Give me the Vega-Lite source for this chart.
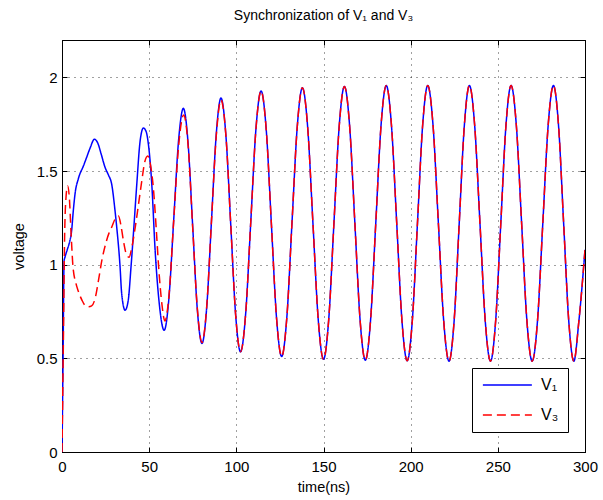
{
  "$schema": "https://vega.github.io/schema/vega-lite/v6.json",
  "autosize": "none",
  "width": 523,
  "height": 412,
  "padding": {"left": 62, "top": 40, "right": 18, "bottom": 48},
  "background": "white",
  "config": {
    "font": "Liberation Sans",
    "view": {"stroke": "black", "strokeWidth": 1},
    "axis": {
      "domainColor": "black", "tickColor": "black", "labelColor": "black", "titleColor": "black",
      "labelFontSize": 15, "titleFontSize": 14.5, "titleFontWeight": "normal",
      "tickSize": -5, "gridColor": "#000000", "gridOpacity": 0.75, "gridDash": [1, 5]
    },
    "legend": {
      "title": null, "orient": "none", "legendX": 410, "legendY": 328,
      "symbolType": "M-1,0H7", "symbolSize": 150, "symbolStrokeWidth": 1.5, "symbolFillColor": "transparent",
      "labelFontSize": 16, "labelOffset": 44, "rowPadding": 14, "padding": 9,
      "strokeColor": "black", "fillColor": "white", "labelColor": "black"
    },
    "title": {"fontSize": 14, "fontWeight": "normal", "color": "black"}
  },
  "title": {"text": "Synchronization of V₁ and V₃", "offset": 6, "baseline": "alphabetic"},
  "data": {"values": [
    {"t":0,"v":0,"s":"V₁"},{"t":0.6,"v":0.5,"s":"V₁"},{"t":1.2,"v":1.02,"s":"V₁"},{"t":1.7,"v":1.04,"s":"V₁"},{"t":3,"v":1.08,"s":"V₁"},{"t":4.3,"v":1.12,"s":"V₁"},{"t":5.5,"v":1.18,"s":"V₁"},{"t":6.5,"v":1.29,"s":"V₁"},{"t":7.5,"v":1.38,"s":"V₁"},{"t":9.4,"v":1.46,"s":"V₁"},{"t":12.4,"v":1.53,"s":"V₁"},{"t":14,"v":1.57,"s":"V₁"},{"t":16,"v":1.62,"s":"V₁"},{"t":18.6,"v":1.67,"s":"V₁"},{"t":20.5,"v":1.65,"s":"V₁"},{"t":22.5,"v":1.59,"s":"V₁"},{"t":24.7,"v":1.52,"s":"V₁"},{"t":26.6,"v":1.48,"s":"V₁"},{"t":28.5,"v":1.43,"s":"V₁"},{"t":30.4,"v":1.29,"s":"V₁"},{"t":31.4,"v":1.2,"s":"V₁"},{"t":33.3,"v":0.99,"s":"V₁"},{"t":34.2,"v":0.85,"s":"V₁"},{"t":36.2,"v":0.757,"s":"V₁"},{"t":38,"v":0.81,"s":"V₁"},{"t":39.6,"v":0.99,"s":"V₁"},{"t":41,"v":1.17,"s":"V₁"},{"t":42.9,"v":1.43,"s":"V₁"},{"t":44.8,"v":1.66,"s":"V₁"},{"t":46.7,"v":1.73,"s":"V₁"},{"t":48.3,"v":1.71,"s":"V₁"},{"t":49.6,"v":1.64,"s":"V₁"},{"t":51.5,"v":1.43,"s":"V₁"},{"t":53.4,"v":1.08,"s":"V₁"},{"t":55.6,"v":0.81,"s":"V₁"},{"t":58.6,"v":0.65,"s":"V₁"},{"t":61.35,"v":0.823,"s":"V₁"},{"t":64.1,"v":1.243,"s":"V₁"},{"t":66.85,"v":1.662,"s":"V₁"},{"t":69.6,"v":1.835,"s":"V₁"},{"t":72.3,"v":1.652,"s":"V₁"},{"t":74.95,"v":1.208,"s":"V₁"},{"t":77.6,"v":0.763,"s":"V₁"},{"t":80.3,"v":0.58,"s":"V₁"},{"t":83,"v":0.771,"s":"V₁"},{"t":85.75,"v":1.235,"s":"V₁"},{"t":88.5,"v":1.699,"s":"V₁"},{"t":91.2,"v":1.89,"s":"V₁"},{"t":94,"v":1.692,"s":"V₁"},{"t":96.8,"v":1.213,"s":"V₁"},{"t":99.6,"v":0.733,"s":"V₁"},{"t":102.4,"v":0.535,"s":"V₁"},{"t":105.35,"v":0.738,"s":"V₁"},{"t":108.3,"v":1.232,"s":"V₁"},{"t":111.25,"v":1.725,"s":"V₁"},{"t":114.2,"v":1.928,"s":"V₁"},{"t":117.15,"v":1.721,"s":"V₁"},{"t":120.1,"v":1.219,"s":"V₁"},{"t":123.05,"v":0.717,"s":"V₁"},{"t":126,"v":0.51,"s":"V₁"},{"t":128.98,"v":0.72,"s":"V₁"},{"t":131.95,"v":1.228,"s":"V₁"},{"t":134.93,"v":1.735,"s":"V₁"},{"t":137.9,"v":1.945,"s":"V₁"},{"t":140.93,"v":1.733,"s":"V₁"},{"t":143.95,"v":1.22,"s":"V₁"},{"t":146.98,"v":0.707,"s":"V₁"},{"t":150,"v":0.495,"s":"V₁"},{"t":153,"v":0.708,"s":"V₁"},{"t":156,"v":1.224,"s":"V₁"},{"t":159,"v":1.739,"s":"V₁"},{"t":162,"v":1.952,"s":"V₁"},{"t":165,"v":1.739,"s":"V₁"},{"t":168,"v":1.221,"s":"V₁"},{"t":171,"v":0.703,"s":"V₁"},{"t":174,"v":0.49,"s":"V₁"},{"t":177,"v":0.704,"s":"V₁"},{"t":180,"v":1.224,"s":"V₁"},{"t":183,"v":1.743,"s":"V₁"},{"t":186,"v":1.957,"s":"V₁"},{"t":189,"v":1.742,"s":"V₁"},{"t":192,"v":1.222,"s":"V₁"},{"t":195,"v":0.702,"s":"V₁"},{"t":198,"v":0.487,"s":"V₁"},{"t":200.95,"v":0.702,"s":"V₁"},{"t":203.9,"v":1.222,"s":"V₁"},{"t":206.85,"v":1.742,"s":"V₁"},{"t":209.8,"v":1.957,"s":"V₁"},{"t":212.85,"v":1.742,"s":"V₁"},{"t":215.9,"v":1.221,"s":"V₁"},{"t":218.95,"v":0.7,"s":"V₁"},{"t":222,"v":0.485,"s":"V₁"},{"t":224.93,"v":0.7,"s":"V₁"},{"t":227.85,"v":1.221,"s":"V₁"},{"t":230.78,"v":1.742,"s":"V₁"},{"t":233.7,"v":1.957,"s":"V₁"},{"t":236.73,"v":1.742,"s":"V₁"},{"t":239.75,"v":1.221,"s":"V₁"},{"t":242.78,"v":0.7,"s":"V₁"},{"t":245.8,"v":0.485,"s":"V₁"},{"t":248.75,"v":0.7,"s":"V₁"},{"t":251.7,"v":1.221,"s":"V₁"},{"t":254.65,"v":1.742,"s":"V₁"},{"t":257.6,"v":1.957,"s":"V₁"},{"t":260.63,"v":1.742,"s":"V₁"},{"t":263.65,"v":1.221,"s":"V₁"},{"t":266.68,"v":0.7,"s":"V₁"},{"t":269.7,"v":0.485,"s":"V₁"},{"t":272.75,"v":0.7,"s":"V₁"},{"t":275.8,"v":1.221,"s":"V₁"},{"t":278.85,"v":1.742,"s":"V₁"},{"t":281.9,"v":1.957,"s":"V₁"},{"t":284.83,"v":1.742,"s":"V₁"},{"t":287.75,"v":1.221,"s":"V₁"},{"t":290.68,"v":0.7,"s":"V₁"},{"t":293.6,"v":0.485,"s":"V₁"},{"t":296.5,"v":0.7,"s":"V₁"},{"t":300,"v":1.08,"s":"V₁"},

    {"t":0,"v":0,"s":"V₃"},{"t":0.8,"v":0.6,"s":"V₃"},{"t":1.5,"v":1.15,"s":"V₃"},{"t":2.3,"v":1.36,"s":"V₃"},{"t":3.2,"v":1.42,"s":"V₃"},{"t":4.2,"v":1.36,"s":"V₃"},{"t":5.2,"v":1.17,"s":"V₃"},{"t":6.3,"v":0.99,"s":"V₃"},{"t":8,"v":0.9,"s":"V₃"},{"t":9.3,"v":0.86,"s":"V₃"},{"t":11.5,"v":0.81,"s":"V₃"},{"t":13.5,"v":0.78,"s":"V₃"},{"t":15.1,"v":0.775,"s":"V₃"},{"t":17,"v":0.78,"s":"V₃"},{"t":19,"v":0.82,"s":"V₃"},{"t":21,"v":0.92,"s":"V₃"},{"t":22.8,"v":1.02,"s":"V₃"},{"t":25,"v":1.11,"s":"V₃"},{"t":27,"v":1.17,"s":"V₃"},{"t":28.5,"v":1.2,"s":"V₃"},{"t":30.5,"v":1.245,"s":"V₃"},{"t":32.4,"v":1.26,"s":"V₃"},{"t":33.8,"v":1.21,"s":"V₃"},{"t":35.2,"v":1.13,"s":"V₃"},{"t":36.8,"v":1.06,"s":"V₃"},{"t":38.5,"v":1.04,"s":"V₃"},{"t":40,"v":1.09,"s":"V₃"},{"t":42,"v":1.2,"s":"V₃"},{"t":44,"v":1.33,"s":"V₃"},{"t":45.8,"v":1.45,"s":"V₃"},{"t":47.5,"v":1.55,"s":"V₃"},{"t":49.2,"v":1.58,"s":"V₃"},{"t":50.8,"v":1.53,"s":"V₃"},{"t":52.5,"v":1.4,"s":"V₃"},{"t":54,"v":1.2,"s":"V₃"},{"t":55.5,"v":0.98,"s":"V₃"},{"t":57.3,"v":0.79,"s":"V₃"},{"t":59,"v":0.7,"s":"V₃"},{"t":61.4,"v":0.84,"s":"V₃"},{"t":64.1,"v":1.24,"s":"V₃"},{"t":66.85,"v":1.63,"s":"V₃"},{"t":69.8,"v":1.8,"s":"V₃"},{"t":72.4,"v":1.63,"s":"V₃"},{"t":74.95,"v":1.2,"s":"V₃"},{"t":77.6,"v":0.77,"s":"V₃"},{"t":80.3,"v":0.585,"s":"V₃"},{"t":83,"v":0.775,"s":"V₃"},{"t":85.75,"v":1.235,"s":"V₃"},{"t":88.5,"v":1.69,"s":"V₃"},{"t":91.2,"v":1.88,"s":"V₃"},{"t":94,"v":1.692,"s":"V₃"},{"t":96.8,"v":1.213,"s":"V₃"},{"t":99.6,"v":0.733,"s":"V₃"},{"t":102.4,"v":0.535,"s":"V₃"},{"t":105.35,"v":0.738,"s":"V₃"},{"t":108.3,"v":1.232,"s":"V₃"},{"t":111.25,"v":1.725,"s":"V₃"},{"t":114.2,"v":1.928,"s":"V₃"},{"t":117.15,"v":1.721,"s":"V₃"},{"t":120.1,"v":1.219,"s":"V₃"},{"t":123.05,"v":0.717,"s":"V₃"},{"t":126,"v":0.51,"s":"V₃"},{"t":128.98,"v":0.72,"s":"V₃"},{"t":131.95,"v":1.228,"s":"V₃"},{"t":134.93,"v":1.735,"s":"V₃"},{"t":137.9,"v":1.945,"s":"V₃"},{"t":140.93,"v":1.733,"s":"V₃"},{"t":143.95,"v":1.22,"s":"V₃"},{"t":146.98,"v":0.707,"s":"V₃"},{"t":150,"v":0.495,"s":"V₃"},{"t":153,"v":0.708,"s":"V₃"},{"t":156,"v":1.224,"s":"V₃"},{"t":159,"v":1.739,"s":"V₃"},{"t":162,"v":1.952,"s":"V₃"},{"t":165,"v":1.739,"s":"V₃"},{"t":168,"v":1.221,"s":"V₃"},{"t":171,"v":0.703,"s":"V₃"},{"t":174,"v":0.49,"s":"V₃"},{"t":177,"v":0.704,"s":"V₃"},{"t":180,"v":1.224,"s":"V₃"},{"t":183,"v":1.743,"s":"V₃"},{"t":186,"v":1.957,"s":"V₃"},{"t":189,"v":1.742,"s":"V₃"},{"t":192,"v":1.222,"s":"V₃"},{"t":195,"v":0.702,"s":"V₃"},{"t":198,"v":0.487,"s":"V₃"},{"t":200.95,"v":0.702,"s":"V₃"},{"t":203.9,"v":1.222,"s":"V₃"},{"t":206.85,"v":1.742,"s":"V₃"},{"t":209.8,"v":1.957,"s":"V₃"},{"t":212.85,"v":1.742,"s":"V₃"},{"t":215.9,"v":1.221,"s":"V₃"},{"t":218.95,"v":0.7,"s":"V₃"},{"t":222,"v":0.485,"s":"V₃"},{"t":224.93,"v":0.7,"s":"V₃"},{"t":227.85,"v":1.221,"s":"V₃"},{"t":230.78,"v":1.742,"s":"V₃"},{"t":233.7,"v":1.957,"s":"V₃"},{"t":236.73,"v":1.742,"s":"V₃"},{"t":239.75,"v":1.221,"s":"V₃"},{"t":242.78,"v":0.7,"s":"V₃"},{"t":245.8,"v":0.485,"s":"V₃"},{"t":248.75,"v":0.7,"s":"V₃"},{"t":251.7,"v":1.221,"s":"V₃"},{"t":254.65,"v":1.742,"s":"V₃"},{"t":257.6,"v":1.957,"s":"V₃"},{"t":260.63,"v":1.742,"s":"V₃"},{"t":263.65,"v":1.221,"s":"V₃"},{"t":266.68,"v":0.7,"s":"V₃"},{"t":269.7,"v":0.485,"s":"V₃"},{"t":272.75,"v":0.7,"s":"V₃"},{"t":275.8,"v":1.221,"s":"V₃"},{"t":278.85,"v":1.742,"s":"V₃"},{"t":281.9,"v":1.957,"s":"V₃"},{"t":284.83,"v":1.742,"s":"V₃"},{"t":287.75,"v":1.221,"s":"V₃"},{"t":290.68,"v":0.7,"s":"V₃"},{"t":293.6,"v":0.485,"s":"V₃"},{"t":296.5,"v":0.7,"s":"V₃"},{"t":300,"v":1.08,"s":"V₃"}
  ]},
  "layer": [
    {
      "mark": {"type": "line", "interpolate": "monotone", "strokeWidth": 1.5, "clip": true},
      "encoding": {
        "x": {"field": "t", "type": "quantitative", "scale": {"domain": [0, 300], "nice": false},
              "axis": {"orient": "bottom", "title": "time(ns)", "values": [0, 50, 100, 150, 200, 250, 300], "format": "d",
                       "labelPadding": 12, "titlePadding": 6, "grid": true, "labelFlush": false}},
        "y": {"field": "v", "type": "quantitative", "scale": {"domain": [0, 2.2], "nice": false, "zero": false},
              "axis": {"orient": "left", "title": "voltage", "values": [0, 0.5, 1, 1.5, 2], "format": "~g",
                       "labelPadding": 10, "titlePadding": 10, "grid": true, "labelFlush": false}},
        "color": {"field": "s", "type": "nominal", "sort": ["V₁", "V₃"],
                  "scale": {"domain": ["V₁", "V₃"], "range": ["#0000ff", "#ff0000"]}},
        "strokeDash": {"field": "s", "type": "nominal", "sort": ["V₁", "V₃"],
                       "scale": {"domain": ["V₁", "V₃"], "range": [[1, 0], [9, 5]]}}
      }
    },
    {
      "mark": {"type": "point", "opacity": 0},
      "encoding": {
        "x": {"field": "t", "type": "quantitative",
              "axis": {"orient": "top", "title": null, "labels": false, "grid": false, "values": [0, 50, 100, 150, 200, 250, 300]}},
        "y": {"field": "v", "type": "quantitative",
              "axis": {"orient": "right", "title": null, "labels": false, "grid": false, "values": [0, 0.5, 1, 1.5, 2]}}
      }
    }
  ],
  "resolve": {"axis": {"x": "independent", "y": "independent"}}
}
